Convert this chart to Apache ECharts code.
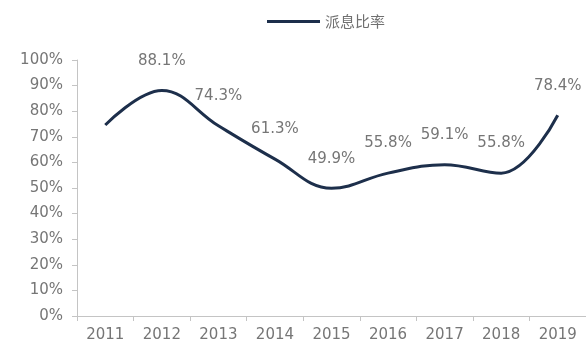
<!DOCTYPE html>
<html>
<head>
<meta charset="utf-8">
<script src="https://cdn.jsdelivr.net/npm/echarts@6/dist/echarts.min.js"></script>
<style>
  html, body { margin: 0; padding: 0; background: #fff; }
  #chart { width: 586px; height: 344px; }
</style>
</head>
<body>
<div id="chart"></div>
<script>
// Payout ratio by year (%)
const years = ['2011', '2012', '2013', '2014', '2015', '2016', '2017', '2018', '2019'];
const payoutRatio = [74.6, 88.1, 74.3, 61.3, 49.9, 55.8, 59.1, 55.8, 78.4];
const labelledFrom = 1; // first year has no value label
const seriesName = '派息比率';

const lineColor = '#1d2f4b';
const textColor = '#767676';
const axisColor = '#c4c4c4';

const chart = echarts.init(document.getElementById('chart'), null, { renderer: 'canvas' });

chart.setOption({
  animation: false,
  backgroundColor: '#ffffff',
  legend: {
    left: 262,
    top: 9,
    icon: 'rect',
    itemWidth: 53,
    itemHeight: 3,
    itemGap: 10,
    textStyle: { fontFamily: 'Noto Sans CJK SC', fontSize: 15, color: '#707070' },
    data: [seriesName]
  },
  grid: { left: 77, top: 60, width: 510, height: 256, containLabel: false },
  xAxis: {
    type: 'category',
    data: years,
    boundaryGap: true,
    axisLine: { lineStyle: { color: axisColor, width: 1 } },
    axisTick: { show: true, alignWithLabel: false, length: 5, lineStyle: { color: axisColor } },
    axisLabel: { color: textColor, fontFamily: 'DejaVu Sans', fontSize: 15, margin: 12 }
  },
  yAxis: {
    type: 'value',
    min: 0,
    max: 100,
    interval: 10,
    splitLine: { show: false },
    axisLine: { show: true, lineStyle: { color: axisColor, width: 1 } },
    axisTick: { show: true, length: 5, lineStyle: { color: axisColor } },
    axisLabel: { color: textColor, fontFamily: 'DejaVu Sans', fontSize: 15, margin: 14, formatter: '{value}%' }
  },
  series: [{
    name: seriesName,
    type: 'line',
    smooth: 0.4,
    symbol: 'circle',
    symbolSize: 0.1,
    showSymbol: true,
    itemStyle: { color: lineColor },
    lineStyle: { color: lineColor, width: 3 },
    data: payoutRatio.map((v, i) => ({
      value: v,
      label: {
        show: i >= labelledFrom,
        position: 'top',
        distance: 22,
        color: textColor,
        fontFamily: 'DejaVu Sans',
        fontSize: 15,
        formatter: (p) => p.value.toFixed(1) + '%'
      }
    }))
  }]
});
</script>
</body>
</html>
